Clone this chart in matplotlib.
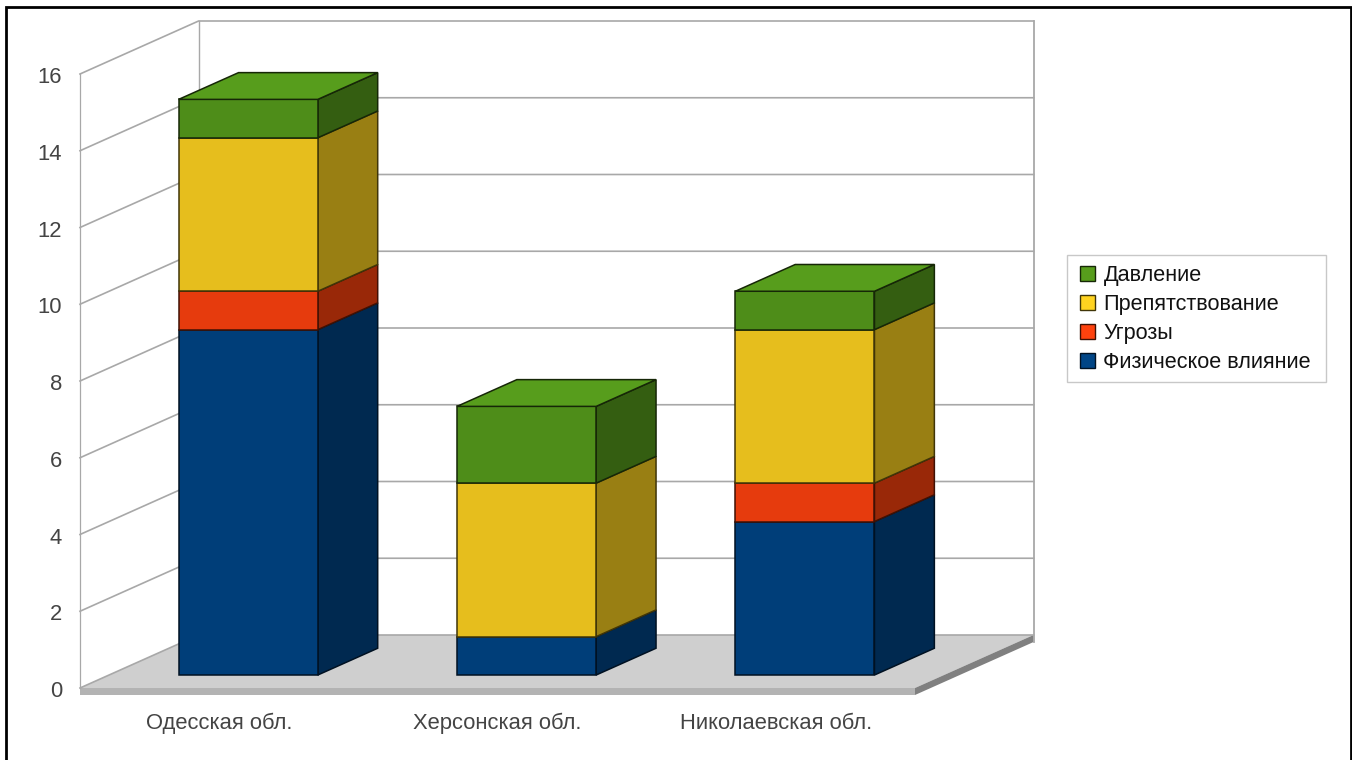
import matplotlib
matplotlib.use("Agg")
import matplotlib.pyplot as plt
from matplotlib.patches import Patch, Polygon, Rectangle
from matplotlib.colors import to_rgb
from matplotlib.transforms import ScaledTranslation

categories = ["Одесская обл.", "Херсонская обл.", "Николаевская обл."]
physical = [9, 1, 4]
threats = [1, 0, 1]
obstruction = [4, 4, 4]
pressure = [1, 2, 1]
series_names = ["Физическое влияние", "Угрозы", "Препятствование", "Давление"]
series_colors = ["#004586", "#ff420e", "#ffd320", "#579d1c"]
y_ticks = [0, 2, 4, 6, 8, 10, 12, 14, 16]

W, H = 1352, 760
plt.rcParams["font.family"] = ["Liberation Sans", "DejaVu Sans"]
fig = plt.figure(figsize=(W / 100, H / 100), dpi=100, facecolor="white")

# Front plane of the 3D box, in pixels
L, R, B, T = 80, 915, 688, 74
ax = fig.add_axes([L / W, 1 - B / H, (R - L) / W, (B - T) / H])
ax.set_xlim(-0.5, 2.5)
ax.set_ylim(0, 16)
ax.patch.set_alpha(0)
for s in ax.spines.values():
    s.set_visible(False)

DX = 118.6 / ((R - L) / 3)    # depth shift in category units
DY = 53 / ((B - T) / 16)      # depth shift in value units


def pt(c, v, d):
    return (c + DX * d, v + DY * d)


def poly(pts, fc, ec="none", lw=0.0, z=1):
    ax.add_patch(Polygon(pts, closed=True, facecolor=fc, edgecolor=ec, linewidth=lw,
                         clip_on=False, zorder=z, joinstyle="miter"))


def shade(col, f):
    return tuple(x * f for x in to_rgb(col))


GRID = "#a8a8a8"
cmin, cmax = -0.5, 2.5
vmax = y_ticks[-1]

# floor and slab
slab = 7 / ((B - T) / 16)
poly([pt(cmin, 0, 0), pt(cmin, 0, 1), pt(cmax, 0, 1), pt(cmax, 0, 0)], "#cfcfcf", z=1)
poly([pt(cmin, 0, 0), pt(cmax, 0, 0), pt(cmax, -slab, 0), pt(cmin, -slab, 0)], "#b3b3b3", z=1)
poly([pt(cmax, 0, 0), pt(cmax, 0, 1), pt(cmax, -slab, 1), pt(cmax, -slab, 0)], "#808080", z=1)

# walls and grid
for v in y_ticks:
    p = [pt(cmin, v, 0), pt(cmin, v, 1), pt(cmax, v, 1)]
    ax.plot(*zip(*p), color=GRID, lw=1.2, clip_on=False, zorder=1.5, solid_joinstyle="miter")
ax.plot(*zip(pt(cmin, 0, 0), pt(cmin, vmax, 0)), color=GRID, lw=0.9, clip_on=False, zorder=1.5)
ax.plot(*zip(pt(cmin, 0, 1), pt(cmin, vmax, 1)), color=GRID, lw=1.0, clip_on=False, zorder=1.5)
ax.plot(*zip(pt(cmax, -slab, 1), pt(cmax, vmax, 1)), color=GRID, lw=1.3, clip_on=False, zorder=1.5)

# stacked 3D bars
d0, d1 = 0.245, 0.75
hw = 0.25
all_series = [physical, threats, obstruction, pressure]
for i in range(len(categories)):
    base = 0
    top_col = None
    for vals, col in zip(all_series, series_colors):
        h = vals[i]
        if h == 0:
            continue
        top = base + h
        edge = shade(col, 0.25)
        poly([pt(i + hw, base, d0), pt(i + hw, base, d1), pt(i + hw, top, d1), pt(i + hw, top, d0)],
             shade(col, 0.6), edge, 1.1, z=3)
        poly([pt(i - hw, base, d0), pt(i + hw, base, d0), pt(i + hw, top, d0), pt(i - hw, top, d0)],
             shade(col, 0.9), edge, 1.1, z=3.1)
        base = top
        top_col = col
    poly([pt(i - hw, base, d0), pt(i + hw, base, d0), pt(i + hw, base, d1), pt(i - hw, base, d1)],
         top_col, shade(top_col, 0.25), 1.1, z=3.2)

# ticks
ax.set_xticks(range(len(categories)), categories)
ax.set_yticks(y_ticks)
ax.tick_params(axis="both", length=0, labelsize=15.8, labelcolor="#444444")
ax.tick_params(axis="y", pad=13)
ax.tick_params(axis="x", pad=18)
down = ScaledTranslation(0, -1 / 100, fig.dpi_scale_trans)
for lab in ax.get_yticklabels():
    lab.set_transform(lab.get_transform() + down)

# legend: frame drawn separately so its padding can differ per side
fig.add_artist(Rectangle((1067 / W, 1 - 382 / H), 259 / W, 127 / H, transform=fig.transFigure,
                         facecolor="white", edgecolor="#c8c8c8", linewidth=1.0, zorder=-1))
handles = [Patch(facecolor=c, edgecolor=shade(c, 0.25), linewidth=1.0, label=n)
           for n, c in zip(series_names, series_colors)][::-1]
leg = ax.legend(handles=handles, loc="upper left", bbox_to_anchor=(1080 / W, 1 - 265.5 / H),
                bbox_transform=fig.transFigure, fontsize=15.6, frameon=False,
                borderaxespad=0, borderpad=0, handlelength=0.69, handleheight=0.69,
                handletextpad=0.39, labelspacing=0.36, labelcolor="#111111")

# outer frame, open at the bottom edge
fig.add_artist(Rectangle((6 / W, -0.1), (1351 - 6) / W, 1.1 - 7 / H, transform=fig.transFigure,
                         fill=False, edgecolor="black", linewidth=2.0, zorder=10))

fig.savefig("out.png", dpi=100)
